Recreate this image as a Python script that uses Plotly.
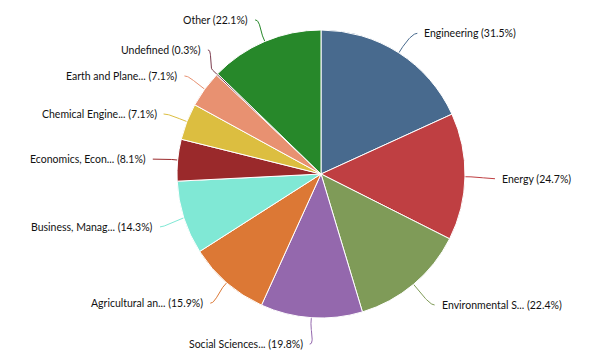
import math
import plotly.graph_objects as go

# ---- data ----
categories = ["Engineering", "Energy", "Environmental S...", "Social Sciences...",
              "Agricultural an...", "Business, Manag...", "Economics, Econ...",
              "Chemical Engine...", "Earth and Plane...", "Undefined", "Other"]
values = [31.5, 24.7, 22.4, 19.8, 15.9, 14.3, 8.1, 7.1, 7.1, 0.3, 22.1]
colors = ["#486a8e", "#bf3f42", "#7f9b58", "#9468ad", "#dc7835", "#80e8d5",
          "#9a292b", "#dcbe40", "#e89171", "#7a3a4c", "#27882a"]

W, H = 597, 355
CX, CY, R = 321, 174, 144          # pie centre / radius in px
LD = 25                            # label distance beyond the pie edge
RL = R + LD

fig = go.Figure()
fig.add_trace(go.Pie(
    labels=categories, values=values, sort=False, direction="clockwise",
    rotation=0, textinfo="none", hoverinfo="label+value",
    marker=dict(colors=colors, line=dict(color="#ffffff", width=1)),
    domain=dict(x=[(CX - R) / W, (CX + R) / W], y=[(H - CY - R) / H, (H - CY + R) / H]),
    showlegend=False,
))

# ---- label geometry derived from the values ----
total = sum(values)
cum = 0.0
info = []
for i, v in enumerate(values):
    mid = (cum + v / 2) / total * 2 * math.pi   # clockwise from 12 o'clock
    cum += v
    s = 1 if mid < math.pi else -1
    y = CY + 1.5 - RL * math.cos(mid)
    info.append(dict(i=i, mid=mid, s=s, y=y, moved=False))

# simple collision handling per side: move the smaller slice's label
MINGAP = 26
for side in (1, -1):
    pts = sorted([p for p in info if p["s"] == side], key=lambda p: p["y"])
    for a, b in zip(pts, pts[1:]):
        if b["y"] - a["y"] < MINGAP:
            if values[a["i"]] < values[b["i"]]:
                a["y"] = b["y"] - MINGAP
                a["moved"] = True
            else:
                b["y"] = a["y"] + MINGAP
                b["moved"] = True

annotations = []
for p in info:
    i, mid, s, y = p["i"], p["mid"], p["s"], p["y"]
    shift = 5 if s > 0 else 0
    if p["moved"]:
        dy = y - (CY + 1.5)
        lx = CX + shift + s * math.sqrt(max(0.0, RL ** 2 - dy ** 2))
    else:
        lx = CX + shift + RL * math.sin(mid)
    dx_, dy_ = math.sin(mid), -math.cos(mid)
    tx, ty = CX + R * dx_, CY + R * dy_
    bx, by = CX + (R + 6) * dx_, CY + (R + 6) * dy_
    p0 = (lx, y)
    p1 = (lx - s * 5, y)
    p2 = (2 * bx - tx, 2 * by - ty)
    p3 = (bx, by)
    xs, ys = [], []
    n = 24
    for k in range(n + 1):
        t = k / n
        a0 = (1 - t) ** 3
        a1 = 3 * (1 - t) ** 2 * t
        a2 = 3 * (1 - t) * t ** 2
        a3 = t ** 3
        xs.append(a0 * p0[0] + a1 * p1[0] + a2 * p2[0] + a3 * p3[0])
        ys.append(a0 * p0[1] + a1 * p1[1] + a2 * p2[1] + a3 * p3[1])
    xs.append(tx)
    ys.append(ty)
    fig.add_trace(go.Scatter(x=xs, y=ys, mode="lines", hoverinfo="skip",
                             line=dict(color=colors[i], width=1), showlegend=False))
    annotations.append(dict(
        x=lx + s * 5, y=y, xref="x", yref="y", showarrow=False,
        text=f"{categories[i]} ({values[i]}%)",
        xanchor="left" if s > 0 else "right", yanchor="middle",
        font=dict(family="Lato, 'Liberation Sans', sans-serif", size=10.5, color="#111111"),
    ))

fig.update_layout(
    width=W, height=H, margin=dict(l=0, r=0, t=0, b=0),
    paper_bgcolor="#ffffff", plot_bgcolor="rgba(0,0,0,0)",
    xaxis=dict(range=[0, W], visible=False, fixedrange=True, domain=[0, 1]),
    yaxis=dict(range=[H, 0], visible=False, fixedrange=True, domain=[0, 1]),
    annotations=annotations, showlegend=False,
)

fig.write_html("out.html", config={"displayModeBar": False},
               post_script="document.body.style.margin='0';")
